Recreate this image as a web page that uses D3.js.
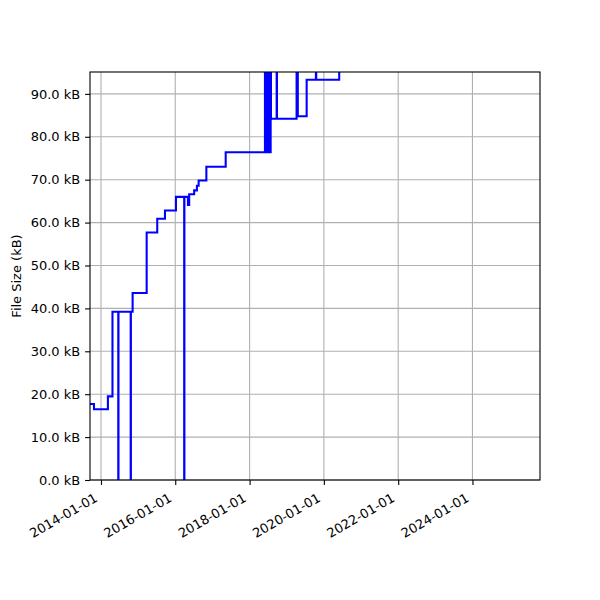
<!DOCTYPE html>
<html>
<head>
<meta charset="utf-8">
<script src="https://cdn.jsdelivr.net/npm/d3@7/dist/d3.min.js"></script>
<style>
  html, body { margin: 0; padding: 0; background: #ffffff; }
  svg { display: block; font-family: "DejaVu Sans", sans-serif; }
</style>
</head>
<body>
<svg id="chart" width="600" height="600"></svg>
<script>
// ---- data ----
// file-size history: date of change and size in kB (spikes = brief values)
const dates = [
  "2013-08-01", "2013-10-24", "2014-03-10", "2014-04-24",
  "2014-06-20", "2014-06-22",
  "2014-10-20", "2014-10-22",
  "2014-11-08", "2015-03-26", "2015-07-08", "2015-09-22", "2016-01-08",
  "2016-03-29", "2016-03-31",
  "2016-05-05", "2016-05-17", "2016-07-05", "2016-08-01", "2016-08-18",
  "2016-11-02", "2017-05-11",
  "2018-06-01", "2018-06-04", "2018-06-16", "2018-06-19", "2018-07-01", "2018-07-04",
  "2018-07-16", "2018-07-19", "2018-07-27",
  "2018-07-30",
  "2018-09-24", "2018-09-27",
  "2019-04-08", "2019-04-20",
  "2019-07-16",
  "2019-10-15", "2019-10-18",
  "2020-05-31", "2025-06-01"
];
const sizes = [
  17.7, 16.5, 19.5, 39.2,
  0, 39.2,
  0, 39.2,
  43.6, 57.7, 60.9, 62.8, 66.0,
  0, 66.0,
  64.1, 66.6, 67.5, 68.6, 69.8,
  73.0, 76.4,
  100, 76.4, 100, 76.4, 100, 76.4,
  100, 76.4, 100,
  84.2,
  100, 84.2,
  100, 84.8,
  93.3,
  100, 93.3,
  100, 100
];
const yTicks = [0, 10, 20, 30, 40, 50, 60, 70, 80, 90];
const xTickLabels = ["2014-01-01", "2016-01-01", "2018-01-01", "2020-01-01", "2022-01-01", "2024-01-01"];
const xDomain = ["2013-09-15", "2025-10-26"];
const yMax = 95.1;
const yLabel = "File Size (kB)";

// ---- layout ----
const margin = { left: 90, right: 60, top: 72, bottom: 120 };
const W = 600, H = 600;
const iw = W - margin.left - margin.right;
const ih = H - margin.top - margin.bottom;
const parse = d3.utcParse("%Y-%m-%d");

const svg = d3.select("#chart");
const g = svg.append("g").attr("transform", `translate(${margin.left},${margin.top})`);

const x = d3.scaleUtc().domain(xDomain.map(parse)).range([0, iw]);
const y = d3.scaleLinear().domain([0, yMax]).range([ih, 0]);

const gridColor = "#b0b0b0";
const tickFont = 13;

// grid lines
g.append("g").selectAll("line.gx").data(xTickLabels).join("line")
  .attr("x1", d => x(parse(d))).attr("x2", d => x(parse(d)))
  .attr("y1", 0).attr("y2", ih)
  .attr("stroke", gridColor).attr("stroke-width", 1.1);
g.append("g").selectAll("line.gy").data(yTicks).join("line")
  .attr("x1", 0).attr("x2", iw)
  .attr("y1", d => y(d)).attr("y2", d => y(d))
  .attr("stroke", gridColor).attr("stroke-width", 1.1);

// clip
svg.append("defs").append("clipPath").attr("id", "clip")
  .append("rect").attr("x", 0).attr("y", 0).attr("width", iw).attr("height", ih);

// line
const data = dates.map((d, i) => ({ t: parse(d), v: sizes[i] }));
const line = d3.line().x(d => x(d.t)).y(d => y(d.v)).curve(d3.curveStepAfter);
g.append("path").datum(data)
  .attr("clip-path", "url(#clip)")
  .attr("fill", "none")
  .attr("stroke", "#0000ff")
  .attr("stroke-width", 2.08)
  .attr("stroke-linejoin", "miter")
  .attr("d", line);

// axes via d3
const yAxis = d3.axisLeft(y).tickValues(yTicks)
  .tickFormat(d => d3.format(".1f")(d) + " kB")
  .tickSize(4.9).tickPadding(4.9);
const yg = g.append("g").call(yAxis);
yg.select(".domain").remove();
yg.selectAll(".tick line").attr("stroke", "#000").attr("stroke-width", 1.1);
yg.selectAll(".tick text").attr("font-size", tickFont).attr("fill", "#000")
  .attr("font-family", "DejaVu Sans");

const xAxis = d3.axisBottom(x).tickValues(xTickLabels.map(parse))
  .tickFormat(d3.utcFormat("%Y-%m-%d"))
  .tickSize(4.9).tickPadding(4.9);
const xg = g.append("g").attr("transform", `translate(0,${ih})`).call(xAxis);
xg.select(".domain").remove();
xg.selectAll(".tick line").attr("stroke", "#000").attr("stroke-width", 1.1);
xg.selectAll(".tick text")
  .attr("font-size", tickFont).attr("fill", "#000").attr("font-family", "DejaVu Sans")
  .attr("text-anchor", "end")
  .attr("y", 0).attr("dy", 0)
  .attr("transform", "translate(-3,20.5) rotate(-30)");

// spines
g.append("rect").attr("x", 0).attr("y", 0).attr("width", iw).attr("height", ih)
  .attr("fill", "none").attr("stroke", "#000").attr("stroke-width", 1.1);

// y label
svg.append("text")
  .attr("transform", `translate(21,${margin.top + ih / 2}) rotate(-90)`)
  .attr("text-anchor", "middle")
  .attr("font-size", tickFont)
  .attr("font-family", "DejaVu Sans")
  .attr("fill", "#000")
  .text(yLabel);
</script>
</body>
</html>
